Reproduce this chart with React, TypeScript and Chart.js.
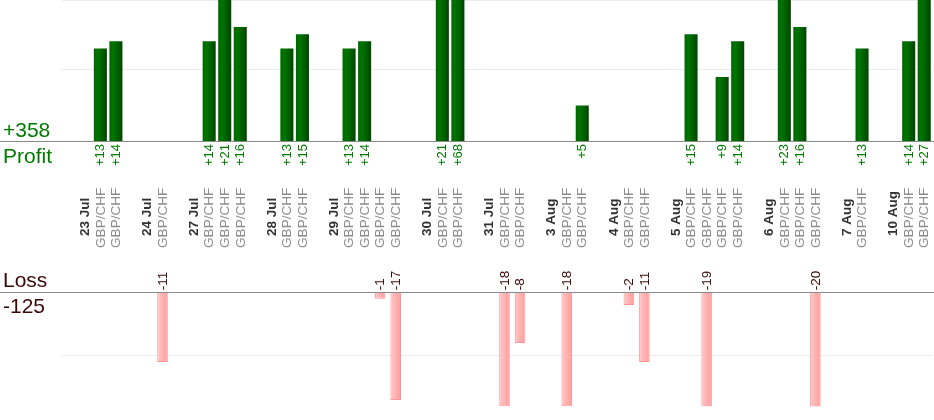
import React, { useRef, useEffect } from "react";
import Chart from "chart.js/auto";

// trading days and the result of every GBP/CHF trade closed on that day
const dates = [
  "23 Jul", "24 Jul", "27 Jul", "28 Jul", "29 Jul", "30 Jul", "31 Jul",
  "3 Aug", "4 Aug", "5 Aug", "6 Aug", "7 Aug", "10 Aug",
];
const tradeResults: number[][] = [
  [13, 14],
  [-11],
  [14, 21, 16],
  [13, 15],
  [13, 14, -1, -17],
  [21, 68],
  [-18, -8],
  [-18, 5],
  [-2, -11],
  [15, -19, 9, 14],
  [23, 16, -20],
  [13],
  [14, 27],
];
const pair = "GBP/CHF";

// one slot per date label, one per trade, an empty one between days
const slotLabels: string[] = [""];
const profitData: (number | null)[] = [null];
const lossData: (number | null)[] = [null];
dates.forEach((d, i) => {
  slotLabels.push(d);
  profitData.push(null);
  lossData.push(null);
  tradeResults[i].forEach((v) => {
    slotLabels.push(pair);
    profitData.push(v > 0 ? v : null);
    lossData.push(v < 0 ? v : null);
  });
  if (i < dates.length - 1) {
    slotLabels.push("");
    profitData.push(null);
    lossData.push(null);
  }
});

const totalProfit = profitData.reduce<number>((s, v) => s + (v ?? 0), 0);
const totalLoss = lossData.reduce<number>((s, v) => s + (v ?? 0), 0);

const FONT = '"Liberation Sans", Arial, sans-serif';
const GREEN_TEXT = "#007a00";
const LOSS_TEXT = "#3b0808";

const greenStops: [number, string][] = [
  [0, "#006600"],
  [0.3, "#007500"],
  [1, "#004600"],
];
const pinkStops: [number, string][] = [
  [0, "#ffc8c8"],
  [1, "#ff9c9c"],
];

const barFill = (stops: [number, string][], pct: number) => (c: any) => {
  const chart = c.chart;
  const x = chart.scales?.x;
  if (!chart.chartArea || !x || c.dataIndex === undefined) return stops[1][1];
  const cx = x.getPixelForValue(c.dataIndex);
  const half = ((x.width / slotLabels.length) * pct) / 2;
  const g = chart.ctx.createLinearGradient(cx - half, 0, cx + half, 0);
  stops.forEach(([o, col]) => g.addColorStop(o, col));
  return g;
};

const labelsPlugin = {
  id: "tradeLabels",
  afterDraw(chart: any) {
    const { ctx, width } = chart;
    const { x, yP, yL } = chart.scales;
    const pBase = yP.getPixelForValue(0);
    const lBase = yL.getPixelForValue(0);
    ctx.save();

    ctx.strokeStyle = "#8a8a8a";
    ctx.lineWidth = 1;
    [pBase, lBase].forEach((y) => {
      const yy = Math.round(y) + 0.5;
      ctx.beginPath();
      ctx.moveTo(0, yy);
      ctx.lineTo(width, yy);
      ctx.stroke();
    });

    ctx.font = `21px ${FONT}`;
    ctx.textAlign = "left";
    ctx.textBaseline = "alphabetic";
    ctx.fillStyle = GREEN_TEXT;
    ctx.fillText(`+${totalProfit}`, 3, pBase - 4.5);
    ctx.fillText("Profit", 3, pBase + 21.5);
    ctx.fillStyle = LOSS_TEXT;
    ctx.fillText("Loss", 3, lBase - 5.5);
    ctx.fillText(`${totalLoss}`, 3, lBase + 21);

    const vert = (text: string, cx: number, y: number, align: CanvasTextAlign, font: string, color: string) => {
      ctx.save();
      ctx.translate(cx + 0.5, y);
      ctx.rotate(-Math.PI / 2);
      ctx.font = font;
      ctx.fillStyle = color;
      ctx.textAlign = align;
      ctx.textBaseline = "middle";
      ctx.fillText(text, 0, 0);
      ctx.restore();
    };

    slotLabels.forEach((lab, i) => {
      const cx = x.getPixelForValue(i);
      if (lab === pair) vert(lab, cx, pBase + 107, "left", `13.6px ${FONT}`, "#8c8c8c");
      else if (lab) vert(lab, cx, pBase + 95, "left", `bold 13.5px ${FONT}`, "#333333");
      const p = profitData[i];
      if (p != null) vert(`+${p}`, cx, pBase + 3, "right", `13px ${FONT}`, GREEN_TEXT);
      const l = lossData[i];
      if (l != null) vert(`${l}`, cx, lBase - 2, "left", `13.5px ${FONT}`, LOSS_TEXT);
    });

    ctx.restore();
  },
};

const TradesChart: React.FC = () => {
  const chartRef = useRef<HTMLCanvasElement | null>(null);

  useEffect(() => {
    document.body.style.margin = "0";
    if (!chartRef.current) return;

    const chart = new Chart(chartRef.current, {
      type: "bar",
      data: {
        labels: slotLabels,
        datasets: [
          {
            label: "Profit",
            data: profitData,
            yAxisID: "yP",
            backgroundColor: barFill(greenStops, 0.84),
            borderWidth: 0,
            barPercentage: 0.84,
            categoryPercentage: 1,
            grouped: false,
          },
          {
            label: "Loss",
            data: lossData,
            yAxisID: "yL",
            backgroundColor: barFill(pinkStops, 0.68),
            borderColor: "#ff9696",
            borderWidth: 1,
            borderSkipped: "start",
            barPercentage: 0.68,
            categoryPercentage: 1,
            grouped: false,
          },
        ],
      },
      options: {
        animation: false,
        responsive: true,
        maintainAspectRatio: false,
        layout: { padding: { left: 61.5, right: 2, top: 0, bottom: 13.7 } },
        plugins: {
          legend: { display: false },
          tooltip: { enabled: false },
        },
        scales: {
          x: { type: "category", display: false, offset: true },
          yP: {
            type: "linear",
            position: "left",
            min: -37.25,
            max: 19.8,
            border: { display: false },
            ticks: { display: false },
            grid: { drawTicks: false, color: "#ececec" },
            afterBuildTicks: (s: any) => {
              s.ticks = [{ value: 10 }, { value: s.max }];
            },
          },
          yL: {
            type: "linear",
            position: "left",
            min: -18,
            max: 46.15,
            border: { display: false },
            ticks: { display: false },
            grid: { drawTicks: false, color: "#ececec" },
            afterBuildTicks: (s: any) => {
              s.ticks = [{ value: -10 }];
            },
          },
        },
      },
      plugins: [labelsPlugin],
    } as any);

    return () => {
      chart.destroy();
    };
  }, []);

  return (
    <div style={{ width: "934px", height: "420px", position: "relative" }}>
      <canvas ref={chartRef}></canvas>
    </div>
  );
};

export default function App() {
  return <TradesChart />;
}
